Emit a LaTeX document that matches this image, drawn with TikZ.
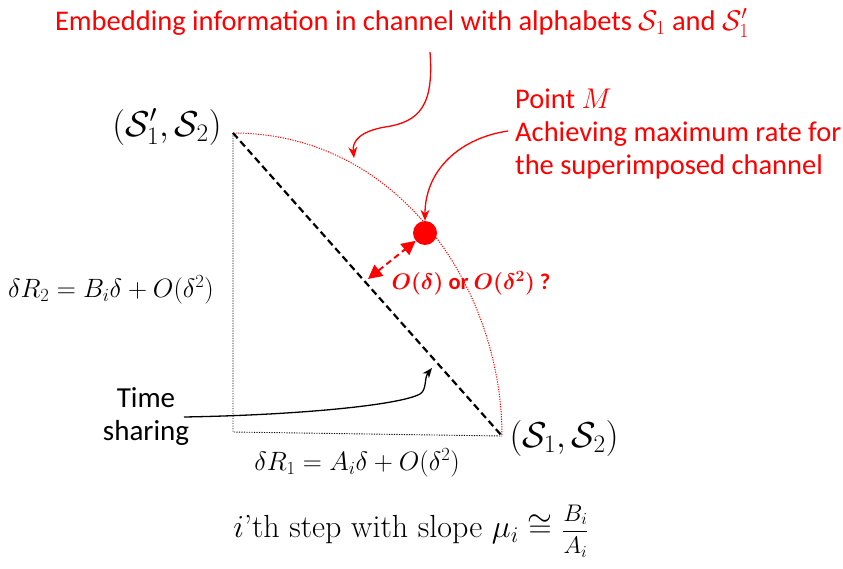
\documentclass[tikz,border=0pt]{standalone}
\usepackage{fix-cm}
\usepackage{fontspec}
\newfontfamily\calibri{Carlito}
\usetikzlibrary{arrows.meta}
\tikzset{
  redtxt/.style={text=red, font=\calibri\fontsize{28.5}{33}\selectfont, inner sep=0pt},
  mathtxt/.style={font=\fontsize{36}{38}\selectfont, inner sep=0pt},
  smallmath/.style={font=\fontsize{26.5}{28}\selectfont, inner sep=0pt},
  pointer/.style={red, line width=1.3pt, -{Stealth[length=11pt,width=9pt]}},
  guide/.style={black, line width=0.9pt, dash pattern=on 1.2pt off 1.3pt},
}
\begin{document}
\begin{tikzpicture}[x=1pt,y=-1pt]
\useasboundingbox (0,0) rectangle (843,569);
% corners
\coordinate (A) at (233,133);
\coordinate (B) at (502,436);
\coordinate (C) at (233,432);
% guide lines
\draw[guide] (A) -- (C) -- (B);
% red dotted arc
\draw[red, line width=1pt, dash pattern=on 1.2pt off 1.3pt] (A) .. controls (400,133) and (502,290) .. (B);
% black dashed time sharing line
\draw[black, line width=2.2pt, dash pattern=on 7pt off 4pt] (A) -- (B);
% point M
\node[circle, fill=red, minimum size=24pt, inner sep=0pt] (M) at (425,233) {};
\coordinate (D) at (368,279);
\draw[red, line width=2pt, dash pattern=on 6pt off 4pt, {Triangle[length=14pt,width=14pt]}-{Triangle[length=14pt,width=14pt]}] (D) -- (M.220);
% labels
\node[redtxt] (title) at (402,23) {Embedding information in channel with alphabets $\mathcal{S}_1$ and $\mathcal{S}_1'$};
\node[redtxt, anchor=north west, align=left] (pm) at (515,89) {Point $M$\\Achieving maximum rate for\\the superimposed channel};
\node[text=red, font=\calibri\bfseries\boldmath\fontsize{22.5}{24}\selectfont, inner sep=0pt] (odelta) at (471,283) {$O(\delta)$ or $O(\delta^2)$ ?};
\node[mathtxt] (tl) at (167,127) {$(\mathcal{S}_1', \mathcal{S}_2)$};
\node[mathtxt] (br) at (564,438) {$(\mathcal{S}_1, \mathcal{S}_2)$};
\node[smallmath] (r2) at (111,290) {$\delta R_2 = B_i\delta + O(\delta^2)$};
\node[smallmath] (r1) at (357,463) {$\delta R_1 = A_i\delta + O(\delta^2)$};
\node[font=\calibri\fontsize{29}{33}\selectfont, align=center, inner sep=0pt] (ts) at (146,417) {Time\\sharing};
\node[font=\fontsize{32}{34}\selectfont, inner sep=0pt] (slope) at (411,531) {$i$’th step with slope $\mu_i \cong$ {\fontsize{24}{26}\selectfont$\displaystyle\frac{B_i}{A_i}$}};
% pointers
\coordinate (t1) at (430,52);
\coordinate (t2) at (354,158);
\draw[pointer] (t1) .. controls (434,105) and (420,122) .. (385,127) .. controls (362,131) and (352,140) .. (t2);
\coordinate (p1) at (508,131);
\draw[pointer] (p1) .. controls (460,138) and (425,170) .. (M.north);
\coordinate (s1) at (184,417);
\coordinate (s2) at (432,368);
\draw[black, line width=1.3pt, -{Stealth[length=10pt,width=8pt]}] (s1) .. controls (300,415) and (400,405) .. (420,394) .. controls (427,390) and (424,378) .. (s2);
\end{tikzpicture}
\end{document}
